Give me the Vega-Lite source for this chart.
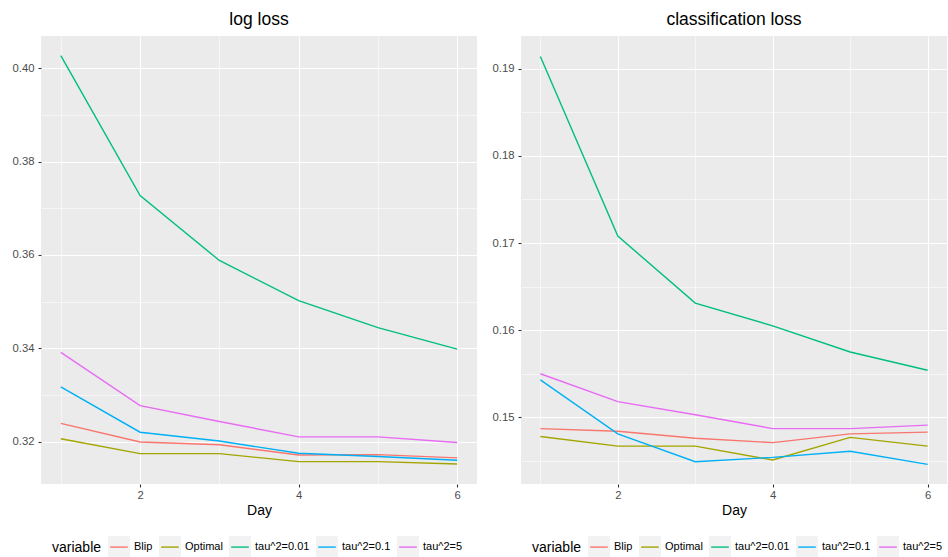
{
  "$schema": "https://vega.github.io/schema/vega-lite/v6.json",
  "padding": {"left": 12, "top": 10, "right": 0, "bottom": 0},
  "background": "white",
  "datasets": {
    "log": [
      {"Day": 1, "variable": "Blip", "loss": 0.3239}, {"Day": 2, "variable": "Blip", "loss": 0.3199}, {"Day": 3, "variable": "Blip", "loss": 0.3193}, {"Day": 4, "variable": "Blip", "loss": 0.3171}, {"Day": 5, "variable": "Blip", "loss": 0.3172}, {"Day": 6, "variable": "Blip", "loss": 0.3165},
      {"Day": 1, "variable": "Optimal", "loss": 0.3206}, {"Day": 2, "variable": "Optimal", "loss": 0.3174}, {"Day": 3, "variable": "Optimal", "loss": 0.3174}, {"Day": 4, "variable": "Optimal", "loss": 0.3157}, {"Day": 5, "variable": "Optimal", "loss": 0.3157}, {"Day": 6, "variable": "Optimal", "loss": 0.3152},
      {"Day": 1, "variable": "tau^2=0.01", "loss": 0.4027}, {"Day": 2, "variable": "tau^2=0.01", "loss": 0.3727}, {"Day": 3, "variable": "tau^2=0.01", "loss": 0.3588}, {"Day": 4, "variable": "tau^2=0.01", "loss": 0.3502}, {"Day": 5, "variable": "tau^2=0.01", "loss": 0.3444}, {"Day": 6, "variable": "tau^2=0.01", "loss": 0.3398},
      {"Day": 1, "variable": "tau^2=0.1", "loss": 0.3317}, {"Day": 2, "variable": "tau^2=0.1", "loss": 0.3220}, {"Day": 3, "variable": "tau^2=0.1", "loss": 0.3201}, {"Day": 4, "variable": "tau^2=0.1", "loss": 0.3175}, {"Day": 5, "variable": "tau^2=0.1", "loss": 0.3168}, {"Day": 6, "variable": "tau^2=0.1", "loss": 0.3160},
      {"Day": 1, "variable": "tau^2=5", "loss": 0.3391}, {"Day": 2, "variable": "tau^2=5", "loss": 0.3277}, {"Day": 3, "variable": "tau^2=5", "loss": 0.3243}, {"Day": 4, "variable": "tau^2=5", "loss": 0.3210}, {"Day": 5, "variable": "tau^2=5", "loss": 0.3210}, {"Day": 6, "variable": "tau^2=5", "loss": 0.3198}
    ],
    "cls": [
      {"Day": 1, "variable": "Blip", "loss": 0.1487}, {"Day": 2, "variable": "Blip", "loss": 0.1484}, {"Day": 3, "variable": "Blip", "loss": 0.1476}, {"Day": 4, "variable": "Blip", "loss": 0.1471}, {"Day": 5, "variable": "Blip", "loss": 0.1481}, {"Day": 6, "variable": "Blip", "loss": 0.1483},
      {"Day": 1, "variable": "Optimal", "loss": 0.1478}, {"Day": 2, "variable": "Optimal", "loss": 0.1467}, {"Day": 3, "variable": "Optimal", "loss": 0.1467}, {"Day": 4, "variable": "Optimal", "loss": 0.1451}, {"Day": 5, "variable": "Optimal", "loss": 0.1477}, {"Day": 6, "variable": "Optimal", "loss": 0.1467},
      {"Day": 1, "variable": "tau^2=0.01", "loss": 0.1914}, {"Day": 2, "variable": "tau^2=0.01", "loss": 0.1708}, {"Day": 3, "variable": "tau^2=0.01", "loss": 0.1631}, {"Day": 4, "variable": "tau^2=0.01", "loss": 0.1605}, {"Day": 5, "variable": "tau^2=0.01", "loss": 0.1575}, {"Day": 6, "variable": "tau^2=0.01", "loss": 0.1554},
      {"Day": 1, "variable": "tau^2=0.1", "loss": 0.1543}, {"Day": 2, "variable": "tau^2=0.1", "loss": 0.1481}, {"Day": 3, "variable": "tau^2=0.1", "loss": 0.1449}, {"Day": 4, "variable": "tau^2=0.1", "loss": 0.1454}, {"Day": 5, "variable": "tau^2=0.1", "loss": 0.1461}, {"Day": 6, "variable": "tau^2=0.1", "loss": 0.1446},
      {"Day": 1, "variable": "tau^2=5", "loss": 0.1550}, {"Day": 2, "variable": "tau^2=5", "loss": 0.1518}, {"Day": 3, "variable": "tau^2=5", "loss": 0.1503}, {"Day": 4, "variable": "tau^2=5", "loss": 0.1487}, {"Day": 5, "variable": "tau^2=5", "loss": 0.1487}, {"Day": 6, "variable": "tau^2=5", "loss": 0.1491}
    ]
  },
  "spacing": 15,
  "resolve": {"scale": {"color": "independent", "y": "independent"}},
  "hconcat": [
    {
      "data": {"name": "log"},
      "width": 436,
      "height": 448,
      "title": {"text": "log loss"},
      "mark": {"type": "line", "strokeWidth": 1.4},
      "encoding": {
        "x": {"field": "Day", "type": "quantitative", "scale": {"domain": [0.75, 6.25], "nice": false, "zero": false},
          "axis": {"values": [1, 2, 3, 4, 5, 6], "labelExpr": "datum.value % 2 === 0 ? datum.label : ''",
            "gridWidth": {"condition": {"test": "datum.value % 2 === 0", "value": 1.1}, "value": 0.55},
            "tickOpacity": {"condition": {"test": "datum.value % 2 === 0", "value": 1}, "value": 0}}},
        "y": {"field": "loss", "type": "quantitative", "title": null, "scale": {"domain": [0.3109, 0.4069], "nice": false, "zero": false},
          "axis": {"values": [0.32, 0.33, 0.34, 0.35, 0.36, 0.37, 0.38, 0.39, 0.40], "format": ".2f",
            "labelExpr": "round(datum.value*100) % 2 === 0 ? datum.label : ''",
            "gridWidth": {"condition": {"test": "round(datum.value*100) % 2 === 0", "value": 1.1}, "value": 0.55},
            "tickOpacity": {"condition": {"test": "round(datum.value*100) % 2 === 0", "value": 1}, "value": 0}}},
        "color": {"field": "variable", "type": "nominal",
          "scale": {"domain": ["Blip", "Optimal", "tau^2=0.01", "tau^2=0.1", "tau^2=5"], "range": ["#F8766D", "#A3A500", "#00BF7D", "#00B0F6", "#E76BF3"]}}
      }
    },
    {
      "data": {"name": "cls"},
      "width": 426,
      "height": 448,
      "title": {"text": "classification loss"},
      "mark": {"type": "line", "strokeWidth": 1.4},
      "encoding": {
        "x": {"field": "Day", "type": "quantitative", "scale": {"domain": [0.75, 6.25], "nice": false, "zero": false},
          "axis": {"values": [1, 2, 3, 4, 5, 6], "labelExpr": "datum.value % 2 === 0 ? datum.label : ''",
            "gridWidth": {"condition": {"test": "datum.value % 2 === 0", "value": 1.1}, "value": 0.55},
            "tickOpacity": {"condition": {"test": "datum.value % 2 === 0", "value": 1}, "value": 0}}},
        "y": {"field": "loss", "type": "quantitative", "title": null, "scale": {"domain": [0.14235, 0.19375], "nice": false, "zero": false},
          "axis": {"values": [0.145, 0.15, 0.155, 0.16, 0.165, 0.17, 0.175, 0.18, 0.185, 0.19], "format": ".2f",
            "labelExpr": "round(datum.value*1000) % 10 === 0 ? datum.label : ''",
            "gridWidth": {"condition": {"test": "round(datum.value*1000) % 10 === 0", "value": 1.1}, "value": 0.55},
            "tickOpacity": {"condition": {"test": "round(datum.value*1000) % 10 === 0", "value": 1}, "value": 0}}},
        "color": {"field": "variable", "type": "nominal",
          "scale": {"domain": ["Blip", "Optimal", "tau^2=0.01", "tau^2=0.1", "tau^2=5"], "range": ["#F8766D", "#A3A500", "#00BF7D", "#00B0F6", "#E76BF3"]}}
      }
    }
  ],
  "config": {
    "font": "Liberation Sans",
    "view": {"fill": "#EBEBEB", "stroke": null},
    "title": {"fontSize": 17.5, "fontWeight": "normal", "color": "black", "anchor": "middle", "frame": "group", "baseline": "alphabetic", "offset": 8},
    "axis": {
      "domain": false,
      "gridColor": "white",
      "tickColor": "#333333",
      "tickSize": 3,
      "tickWidth": 1.1,
      "labelColor": "#4D4D4D",
      "labelFontSize": 11.3,
      "labelPadding": 4,
      "titleFontSize": 14,
      "titleFontWeight": "normal",
      "titleColor": "black",
      "titlePadding": 3
    },
    "axisX": {"labelPadding": 2},
    "legend": {
      "orient": "none",
      "legendX": 11,
      "legendY": 499,
      "direction": "horizontal",
      "titleOrient": "left",
      "titleFontSize": 14,
      "titleFontWeight": "normal",
      "titleColor": "black",
      "titlePadding": 5,
      "titleBaseline": "middle",
      "labelFontSize": 11,
      "labelColor": "black",
      "labelOffset": 3,
      "columnPadding": 3,
      "symbolType": "M-0.8,0L0.8,0L1,0L1,-1L-1,-1L-1,1L1,1L1,0",
      "symbolSize": 484,
      "symbolStrokeWidth": 1.4,
      "symbolDash": [17.6, 200],
      "symbolFillColor": "#F2F2F2",
      "symbolOpacity": 1
    }
  }
}
